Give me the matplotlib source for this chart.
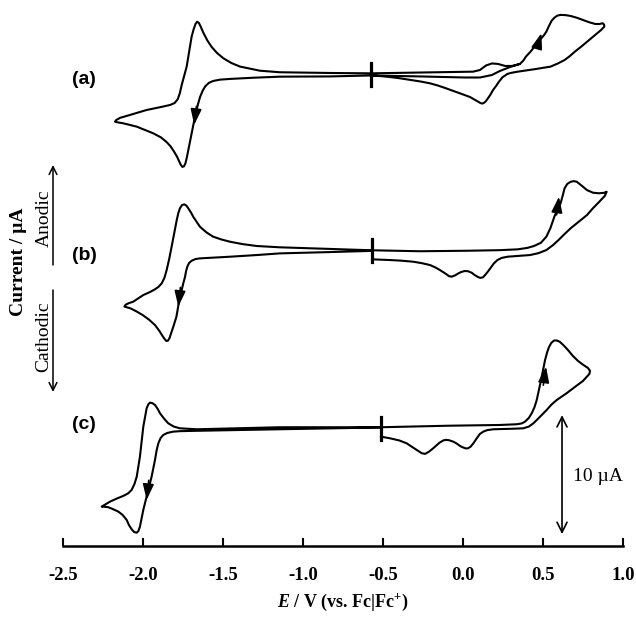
import matplotlib
matplotlib.use('Agg')
import matplotlib.pyplot as plt

plt.rcParams['mathtext.fontset'] = 'custom'
plt.rcParams['mathtext.rm'] = 'Liberation Serif:bold'
plt.rcParams['mathtext.it'] = 'Liberation Serif:bold:italic'
plt.rcParams['mathtext.bf'] = 'Liberation Serif:bold'

# potentials (V vs Fc|Fc+) and currents (uA, relative to start point)
E_a = [-0.579, -0.271, 0.011, 0.104, 0.179, 0.229, 0.292, 0.354, 0.375, 0.391, 0.42, 0.45,
       0.486, 0.505, 0.519, 0.535, 0.552, 0.569, 0.588, 0.608, 0.64, 0.671, 0.71, 0.748,
       0.785, 0.824, 0.85, 0.870, 0.880, 0.881, 0.862, 0.837, 0.805, 0.773, 0.735, 0.697,
       0.665, 0.633, 0.59, 0.544, 0.49, 0.442, 0.39, 0.340, 0.30, 0.276, 0.245, 0.223,
       0.205, 0.186, 0.17, 0.154, 0.14, 0.127, 0.117, 0.105, 0.092, 0.079, 0.06, 0.042,
       0.01, -0.021, -0.07, -0.114, -0.16, -0.208, -0.27, -0.333, -0.40, -0.458, -0.52,
       -0.579, -0.833, -1.146, -1.313, -1.458, -1.52, -1.563, -1.59, -1.612, -1.628, -1.645,
       -1.66, -1.677, -1.698, -1.719, -1.728, -1.737, -1.746, -1.756, -1.766, -1.778, -1.79,
       -1.81, -1.83, -1.854, -1.89, -1.938, -2.041, -2.125, -2.16, -2.177, -2.17, -2.145,
       -2.104, -1.979, -1.90, -1.833, -1.805, -1.785, -1.772, -1.760, -1.729, -1.698, -1.685,
       -1.673, -1.663, -1.652, -1.641, -1.625, -1.60, -1.573, -1.54, -1.500, -1.45, -1.396,
       -1.271, -1.146, -0.833, -0.579, -0.271, 0.061, 0.104, 0.142, 0.179, 0.217, 0.261,
       0.304, 0.354]
I_a = [-0.10, -0.18, -0.27, -0.27, -0.06, 0.28, 0.61, 0.87, 1.15, 1.48, 1.90, 2.40,
       3.00, 3.30, 3.58, 4.05, 4.50, 4.75, 4.93, 4.99, 4.97, 4.90, 4.75, 4.56,
       4.38, 4.23, 4.22, 4.29, 4.18, 4.00, 3.73, 3.45, 3.10, 2.74, 2.30, 1.90,
       1.52, 1.20, 0.90, 0.64, 0.52, 0.42, 0.32, 0.22, 0.12, 0.03, -0.25, -0.62,
       -0.98, -1.32, -1.70, -2.02, -2.28, -2.42, -2.46, -2.40, -2.30, -2.20, -2.05, -1.91,
       -1.75, -1.60, -1.36, -1.15, -0.94, -0.76, -0.60, -0.47, -0.33, -0.23, -0.15,
       -0.10, -0.18, -0.20, -0.29, -0.39, -0.45, -0.56, -0.72, -1.00, -1.35, -1.90,
       -2.60, -3.56, -4.96, -6.36, -7.00, -7.50, -7.74, -7.78, -7.60, -7.25, -6.90,
       -6.45, -6.05, -5.70, -5.30, -4.96, -4.40, -4.12, -4.04, -3.98, -3.85, -3.66,
       -3.50, -3.00, -2.78, -2.58, -2.42, -2.10, -1.60, -0.90, 0.64, 3.16, 3.80,
       4.25, 4.42, 4.30, 4.00, 3.50, 2.85, 2.30, 1.80, 1.35, 0.95, 0.65,
       0.30, 0.17, 0.11, 0.08, 0.15, 0.22, 0.36, 0.74, 0.91, 0.87, 0.70,
       0.70, 0.87]

E_b = [-0.571, -0.833, -1.146, -1.291, -1.458, -1.646, -1.675, -1.698, -1.714, -1.725, -1.733,
       -1.739, -1.750, -1.760, -1.775, -1.793, -1.81, -1.826, -1.836, -1.846, -1.856, -1.866,
       -1.877, -1.90, -1.927, -1.965, -2.004, -2.045, -2.080, -2.105, -2.118, -2.11, -2.09,
       -2.063, -2.000, -1.96, -1.927, -1.905, -1.885, -1.868, -1.854, -1.838, -1.823, -1.805,
       -1.791, -1.781, -1.771, -1.758, -1.744, -1.731, -1.719, -1.70, -1.688, -1.666, -1.646,
       -1.605, -1.563, -1.51, -1.458, -1.38, -1.291, -1.146, -0.833, -0.571, -0.271, 0.021,
       0.229, 0.340, 0.40, 0.442, 0.485, 0.519, 0.545, 0.569, 0.59, 0.608, 0.622, 0.633,
       0.65, 0.671, 0.69, 0.709, 0.74, 0.773, 0.81, 0.848, 0.88, 0.896, 0.885, 0.850,
       0.81, 0.773, 0.72, 0.671, 0.63, 0.595, 0.56, 0.519, 0.47, 0.417, 0.34, 0.276,
       0.24, 0.213, 0.19, 0.161, 0.14, 0.123, 0.107, 0.092, 0.07, 0.053, 0.03, 0.009,
       -0.012, -0.031, -0.05, -0.073, -0.09, -0.108, -0.13, -0.146, -0.175, -0.208, -0.26,
       -0.313, -0.39, -0.458, -0.571]
I_b = [-0.03, -0.13, -0.24, -0.38, -0.52, -0.66, -0.72, -0.86, -1.05, -1.36, -1.75,
       -2.20, -2.75, -3.32, -4.16, -5.56, -6.30, -6.96, -7.35, -7.58, -7.60, -7.45,
       -7.24, -6.75, -6.26, -5.80, -5.42, -5.10, -4.86, -4.76, -4.71, -4.55, -4.42,
       -4.30, -3.74, -3.50, -3.26, -3.05, -2.76, -2.30, -1.64, -0.70, 0.32, 1.60,
       2.56, 3.15, 3.55, 3.82, 3.88, 3.78, 3.55, 3.15, 2.84, 2.40, 2.00,
       1.52, 1.16, 0.92, 0.74, 0.54, 0.38, 0.27, 0.13, 0.02, -0.06, -0.02,
       0.03, 0.10, 0.22, 0.38, 0.65, 1.16, 1.90, 2.84, 3.50, 3.97, 4.65, 5.23,
       5.60, 5.78, 5.83, 5.78, 5.45, 5.08, 4.86, 4.81, 4.85, 4.94, 4.60, 4.10,
       3.55, 2.98, 2.40, 1.87, 1.35, 0.88, 0.45, 0.04, -0.22, -0.38, -0.46, -0.52,
       -0.62, -0.80, -1.10, -1.64, -2.00, -2.25, -2.30, -2.23, -2.05, -1.87, -1.74, -1.72,
       -1.80, -1.92, -2.08, -2.20, -2.15, -1.97, -1.78, -1.64, -1.42, -1.22, -1.06,
       -0.94, -0.85, -0.80, -0.74]

E_c = [-0.516, -1.146, -1.708, -1.77, -1.813, -1.85, -1.875, -1.892, -1.906, -1.917, -1.927,
       -1.948, -1.969, -2.000, -2.021, -2.03, -2.041, -2.057, -2.073, -2.09, -2.104, -2.13,
       -2.156, -2.19, -2.219, -2.245, -2.260, -2.24, -2.208, -2.165, -2.125, -2.095, -2.073,
       -2.055, -2.041, -2.021, -2.000, -1.979, -1.968, -1.958, -1.943, -1.927, -1.91, -1.896,
       -1.87, -1.844, -1.81, -1.771, -1.666, -1.146, -0.516, -0.083, 0.229, 0.334, 0.365,
       0.386, 0.41, 0.428, 0.445, 0.459, 0.486, 0.511, 0.525, 0.536, 0.55, 0.567, 0.585,
       0.604, 0.63, 0.654, 0.685, 0.717, 0.75, 0.779, 0.792, 0.788, 0.748, 0.698, 0.646,
       0.584, 0.55, 0.521, 0.48, 0.438, 0.41, 0.375, 0.30, 0.188, 0.15, 0.125, 0.104,
       0.085, 0.063, 0.045, 0.03, 0.015, -0.005, -0.021, -0.04, -0.063, -0.09, -0.11,
       -0.125, -0.15, -0.188, -0.215, -0.239, -0.26, -0.291, -0.325, -0.354, -0.40, -0.458,
       -0.516]
I_c = [0.04, -0.11, -0.25, -0.27, -0.31, -0.42, -0.59, -0.85, -1.29, -1.90, -2.69,
       -4.09, -5.21, -6.89, -8.29, -8.65, -8.80, -8.75, -8.51, -8.15, -7.73, -7.30,
       -7.03, -6.82, -6.66, -6.62, -6.61, -6.45, -6.19, -5.93, -5.71, -5.50, -5.21,
       -4.70, -4.09, -2.41, 0.11, 1.66, 2.00, 2.13, 2.08, 1.93, 1.60, 1.24,
       0.78, 0.39, 0.12, -0.03, -0.11, 0.06, 0.06, 0.19, 0.25, 0.31, 0.38,
       0.53, 0.85, 1.24, 1.75, 2.35, 4.03, 5.71, 6.40, 6.81, 7.15, 7.35, 7.35,
       7.23, 6.90, 6.55, 6.05, 5.63, 5.30, 5.04, 4.80, 4.54, 3.95, 3.45, 2.92,
       2.35, 1.95, 1.51, 0.95, 0.39, 0.12, -0.03, -0.07, -0.11, -0.18, -0.31, -0.50,
       -0.85, -1.29, -1.58, -1.71, -1.72, -1.62, -1.51, -1.32, -1.15, -1.03, -1.00,
       -1.05, -1.25, -1.71, -2.00, -2.18, -2.12, -1.85, -1.55, -1.29, -1.05, -0.87,
       -0.73]

labels = ['(a)', '(b)', '(c)']
offsets = [39.64, 24.83, 9.92]          # vertical stacking, uA
label_dy = [-0.45, -0.45, 0.3]
E_start = [-0.579, -0.571, -0.516]      # start-potential markers
# scan-direction arrows: (tail, tip) pairs relative to each trace
arrows = [[((-1.668, -2.7), (-1.682, -4.25)), ((0.462, 2.3), (0.488, 3.45))],
          [((-1.768, -3.1), (-1.781, -4.72)), ((0.583, 3.0), (0.598, 4.52))],
          [((-1.966, -4.4), (-1.979, -6.05)), ((0.500, 3.6), (0.517, 5.15))]]
xticks = [-2.5, -2.0, -1.5, -1.0, -0.5, 0.0, 0.5, 1.0]

W, H = 636, 619
fig = plt.figure(figsize=(W / 100, H / 100), dpi=100)
ax = fig.add_axes([63.3 / W, 73 / H, 560 / W, 546 / H])
ax.set_xlim(-2.5, 1.0)
ax.set_ylim(0, 546 / 11.9)

for E, I, off in zip([E_a, E_b, E_c], [I_a, I_b, I_c], offsets):
    ax.plot(E, [v + off for v in I], color='k', lw=1.5, solid_joinstyle='round',
            solid_capstyle='round', clip_on=False)

for es, off, dy, lab, arr in zip(E_start, offsets, label_dy, labels, arrows):
    ax.plot([es, es], [off - 1.0, off + 0.95], color='k', lw=2.3, clip_on=False)
    ax.text(-2.37, off + dy, lab, fontsize=14, fontweight='bold',
            family='Liberation Sans', ha='center', va='center')
    for tail, tip in arr:
        ax.annotate('', xy=(tip[0], tip[1] + off), xytext=(tail[0], tail[1] + off),
                    arrowprops=dict(arrowstyle='-|>,head_length=0.8,head_width=0.28',
                                    color='k', lw=1.2, shrinkA=0, shrinkB=0,
                                    mutation_scale=12))

# 10 uA scale bar
ax.annotate('', xy=(0.617, 1.0), xytext=(0.617, 11.0),
            arrowprops=dict(arrowstyle='<->,head_length=0.6,head_width=0.3', color='k',
                            lw=1.2, shrinkA=0, shrinkB=0, mutation_scale=12))
ax.text(0.685, 5.8, '10 \u00b5A', fontsize=14, family='Liberation Serif',
        ha='left', va='center')

# bottom axis only
for s in ['top', 'left', 'right']:
    ax.spines[s].set_visible(False)
ax.spines['bottom'].set_linewidth(1.8)
ax.spines['bottom'].set_bounds(-2.5, 1.0)
ax.set_yticks([])
ax.set_xticks(xticks)
ax.set_xticklabels(['%.1f' % t for t in xticks], fontsize=13.5, fontweight='bold',
                   family='Liberation Serif')
ax.tick_params(axis='x', direction='in', length=6, width=1.5, pad=15)
ax.set_xlabel(r'$E$ / V (vs. Fc|Fc$^{+}$)', fontsize=13, fontweight='bold',
              family='Liberation Serif', labelpad=6)

# current axis indicator on the left
def fpx(x, y):
    return (x, H - y)

ax.annotate('', xy=fpx(53, 165), xytext=fpx(53, 265), xycoords='figure pixels',
            textcoords='figure pixels', annotation_clip=False,
            arrowprops=dict(arrowstyle='->', color='k', lw=1.1, shrinkA=0, shrinkB=0,
                            mutation_scale=14))
ax.annotate('', xy=fpx(53, 392), xytext=fpx(53, 290), xycoords='figure pixels',
            textcoords='figure pixels', annotation_clip=False,
            arrowprops=dict(arrowstyle='->', color='k', lw=1.1, shrinkA=0, shrinkB=0,
                            mutation_scale=14))
fig.text(44 / W, 1 - 218 / H, 'Anodic', rotation=90, fontsize=14,
         family='Liberation Serif', ha='center', va='center')
fig.text(44 / W, 1 - 337 / H, 'Cathodic', rotation=90, fontsize=14,
         family='Liberation Serif', ha='center', va='center')
fig.text(19 / W, 1 - 262 / H, 'Current / \u00b5A', rotation=90, fontsize=14,
         fontweight='bold', family='Liberation Serif', ha='center', va='center')

fig.savefig('out.png', dpi=100)
